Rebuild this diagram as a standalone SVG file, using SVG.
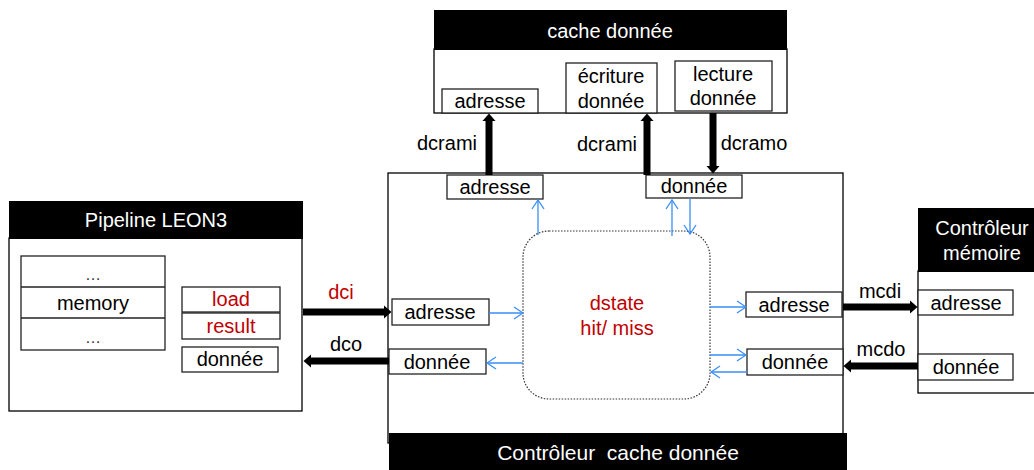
<svg xmlns="http://www.w3.org/2000/svg" width="1034" height="470" viewBox="0 0 1034 470">
<defs>
<style>
text{font-family:"Liberation Sans",Arial,sans-serif;font-size:20px;text-anchor:middle;fill:#000}
.hd{fill:#000}
.hdt{fill:#fff;font-size:20px}
.frame{fill:#fff;stroke:#000;stroke-width:1.3}
.box{fill:#fff;stroke:#222;stroke-width:1.3}
.red{fill:#c00000}
.thick{stroke:#000;stroke-width:7;fill:none}
.blue{stroke:#3a8ef6;stroke-width:1.3;fill:none;marker-end:url(#vb)}
</style>
<marker id="tb" markerUnits="userSpaceOnUse" markerWidth="9" markerHeight="14" refX="1" refY="7" orient="auto">
<path d="M0,0.5 L7.5,7 L0,13.5 Z" fill="#000"/>
</marker>
<marker id="vb" markerUnits="userSpaceOnUse" markerWidth="12" markerHeight="14" refX="11" refY="7" orient="auto">
<path d="M2,1 L11,7 L2,13" fill="none" stroke="#3a8ef6" stroke-width="1.3"/>
</marker>
</defs>

<g id="cache-donnee">
<rect class="frame" x="434" y="49" width="353" height="64"/>
<rect class="hd" x="434" y="10" width="353" height="40"/>
<text class="hdt" x="610" y="38">cache donnée</text>
<rect class="box" x="442" y="89" width="96" height="24"/>
<text x="490" y="108">adresse</text>
<rect class="box" x="566" y="63" width="91" height="50"/>
<text x="611" y="83">écriture</text>
<text x="611" y="108">donnée</text>
<rect class="box" x="675" y="61" width="97" height="50"/>
<text x="723" y="81">lecture</text>
<text x="723" y="105">donnée</text>
</g>

<g id="controleur-cache">
<rect class="frame" x="388" y="173" width="455" height="270"/>
<rect class="hd" x="389" y="433" width="458" height="37"/>
<text class="hdt" x="618" y="460" style="font-size:21px;white-space:pre" xml:space="preserve">Contrôleur  cache donnée</text>
<rect class="box" x="447" y="175" width="96" height="24"/>
<text x="495" y="194">adresse</text>
<rect class="box" x="646" y="175" width="96" height="23"/>
<text x="694" y="193">donnée</text>
<rect class="box" x="392" y="299" width="97" height="26"/>
<text x="440" y="319">adresse</text>
<rect class="box" x="389" y="349" width="97" height="25"/>
<text x="437" y="369">donnée</text>
<rect class="box" x="746" y="292" width="96" height="25"/>
<text x="794" y="312">adresse</text>
<rect class="box" x="747" y="349" width="96" height="26"/>
<text x="795" y="369">donnée</text>
</g>

<g id="dstate">
<rect x="523" y="231" width="187" height="168" rx="26" ry="26" fill="#fff" stroke="#333" stroke-width="1.2" stroke-dasharray="1.5,1.5"/>
<text class="red" x="617" y="310">dstate</text>
<text class="red" x="617" y="335">hit/ miss</text>
</g>

<g id="pipeline-leon3">
<rect class="frame" x="9" y="238" width="293" height="173"/>
<rect class="hd" x="9" y="201" width="294" height="38"/>
<text class="hdt" x="156" y="227">Pipeline LEON3</text>
<rect class="box" x="21" y="256" width="144" height="94"/>
<line x1="21" y1="287" x2="165" y2="287" stroke="#222" stroke-width="1.3"/>
<line x1="21" y1="318" x2="165" y2="318" stroke="#222" stroke-width="1.3"/>
<text x="93" y="280" style="font-size:16px;fill:#333">…</text>
<text x="93" y="310">memory</text>
<text x="93" y="343" style="font-size:16px;fill:#333">…</text>
<rect class="box" x="182" y="287" width="98" height="25"/>
<text class="red" x="231" y="306">load</text>
<rect class="box" x="182" y="313" width="98" height="26"/>
<text class="red" x="231" y="333">result</text>
<rect class="box" x="182" y="347" width="96" height="25"/>
<text x="230" y="366">donnée</text>
</g>

<g id="controleur-memoire">
<rect class="frame" x="918" y="271" width="120" height="122"/>
<rect class="hd" x="918" y="208" width="120" height="64"/>
<text class="hdt" x="982" y="235">Contrôleur</text>
<text class="hdt" x="982" y="260">mémoire</text>
<rect class="box" x="918" y="290" width="95" height="25"/>
<text x="966" y="310">adresse</text>
<rect class="box" x="918" y="354" width="95" height="26"/>
<text x="966" y="374">donnée</text>
</g>

<g id="connectors">
<line class="thick" x1="489" y1="175" x2="489" y2="120" marker-end="url(#tb)"/>
<line class="thick" x1="647" y1="175" x2="647" y2="120" marker-end="url(#tb)"/>
<line class="thick" x1="713" y1="113" x2="713" y2="167" marker-end="url(#tb)"/>
<line class="thick" x1="303" y1="312" x2="385" y2="312" marker-end="url(#tb)"/>
<line class="thick" x1="389" y1="361" x2="310" y2="361" marker-end="url(#tb)"/>
<line class="thick" x1="843" y1="307" x2="911" y2="307" marker-end="url(#tb)"/>
<line class="thick" x1="918" y1="366" x2="850" y2="366" marker-end="url(#tb)"/>
<text x="447" y="150">dcrami</text>
<text x="607" y="151">dcrami</text>
<text x="754" y="150">dcramo</text>
<text class="red" x="341" y="299">dci</text>
<text x="346" y="351">dco</text>
<text x="880" y="298">mcdi</text>
<text x="881" y="356">mcdo</text>
<line class="blue" x1="538" y1="235" x2="538" y2="200"/>
<line class="blue" x1="672" y1="236" x2="672" y2="200"/>
<line class="blue" x1="690" y1="198" x2="690" y2="234"/>
<line class="blue" x1="489" y1="313" x2="523" y2="313"/>
<line class="blue" x1="523" y1="363" x2="487" y2="363"/>
<line class="blue" x1="710" y1="307" x2="746" y2="307"/>
<line class="blue" x1="710" y1="355" x2="746" y2="355"/>
<line class="blue" x1="747" y1="372" x2="711" y2="372"/>
</g>
</svg>
